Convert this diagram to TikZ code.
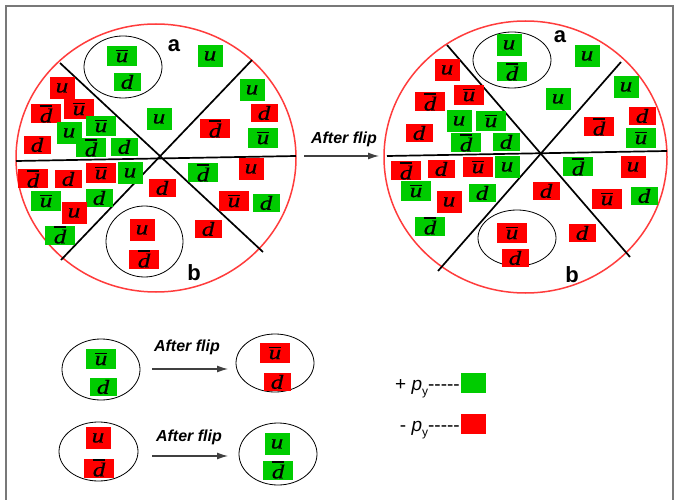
\documentclass[tikz,border=0pt]{standalone}
\usepackage{fontspec}
\setmainfont{Liberation Serif}
\setsansfont{Liberation Sans}
\newfontfamily\quarkfont[FakeStretch=1.25,FakeBold=0.6]{Liberation Serif}
\usetikzlibrary{arrows.meta,shapes.geometric}

\definecolor{qgreen}{RGB}{0,204,0}
\definecolor{qred}{RGB}{255,0,0}
\definecolor{rimred}{RGB}{255,60,60}
\definecolor{framegray}{RGB}{120,120,120}

% quark letters, plain and barred
\newcommand\qbar[1]{\vbox{\hrule height 1.2pt\kern2.0pt\hbox{#1}}}
\newcommand\qU{u}
\newcommand\qD{d}
\newcommand\qUb{\qbar{u}}
\newcommand\qDb{\qbar{d}}

\tikzset{
  q/.style={inner sep=0pt, font=\quarkfont\fontsize{20}{20}\selectfont\itshape},
  pg/.style={q, fill=qgreen},
  nr/.style={q, fill=qred},
  tu/.style={minimum width=25pt, minimum height=22pt},
  tub/.style={minimum width=30pt, minimum height=20pt},
  td/.style={minimum width=27pt, minimum height=18pt},
  tdb/.style={minimum width=30pt, minimum height=19pt},
  rim/.style={draw=rimred, line width=1.5pt, ellipse, inner sep=0pt},
  cut/.style={draw=black, line width=1.7pt},
  pair/.style={draw=black, line width=0.8pt, ellipse, inner sep=0pt},
  tag/.style={font=\sffamily\bfseries\fontsize{22}{22}\selectfont},
  flip/.style={font=\sffamily\bfseries\itshape\fontsize{16}{16}\selectfont},
  flow/.style={draw=black!75, line width=1.2pt, -{Latex[length=11pt,width=7pt]}},
  legend/.style={font=\sffamily\fontsize{19}{19}\selectfont, anchor=base east, inner sep=0pt},
}

\begin{document}
\begin{tikzpicture}[x=1pt,y=-1pt]
\useasboundingbox (0,0) rectangle (675,500);
\fill[white] (0,0) rectangle (675,500);

% outer frame
\draw[framegray, line width=1.5pt] (6,505) -- (6,6) -- (673,6) -- (673,505);

% ---------- left disc ----------
\node[rim, minimum width=280pt, minimum height=268pt] (LC) at (156,158) {};
\coordinate (Lh1) at (16,161);  \coordinate (Lh2) at (296,156);
\coordinate (La1) at (60,63);   \coordinate (La2) at (263,252);
\coordinate (Lb1) at (252,60);  \coordinate (Lb2) at (61,260);
\draw[cut] (Lh1) -- (Lh2);
\draw[cut] (La1) -- (La2);
\draw[cut] (Lb1) -- (Lb2);
\node[pair, minimum width=78pt, minimum height=62pt] (LA) at (123,67) {};
\node[pair, minimum width=77pt, minimum height=71pt] (LB) at (144.5,241.5) {};
\node[tag] (La) at (174,46) {a};
\node[tag] (Lb) at (194,273) {b};

\node[pg,tub] (L1)  at (122,56)  {\qUb};
\node[pg,td]  (L2)  at (127,82)  {\qD};
\node[pg,tu]  (L3)  at (210,56)  {\qU};
\node[nr,tu]  (L4)  at (62,88)   {\qU};
\node[nr,tdb] (L5)  at (46,114)  {\qDb};
\node[nr,tub] (L6)  at (79,109)  {\qUb};
\node[pg,tu]  (L7)  at (252,90)  {\qU};
\node[nr,td]  (L8)  at (264,113) {\qD};
\node[pg,tub] (L9)  at (101,126) {\qUb};
\node[pg,tu]  (L10) at (159,119) {\qU};
\node[nr,tdb] (L11) at (215,129) {\qDb};
\node[pg,tub] (L12) at (263,138) {\qUb};
\node[pg,tu]  (L13) at (69,133)  {\qU};
\node[nr,td]  (L14) at (37,145)  {\qD};
\node[pg,tdb] (L15) at (91,148)  {\qDb};
\node[pg,td]  (L16) at (124,147) {\qD};
\node[nr,tdb] (L17) at (33,179)  {\qDb};
\node[nr,td]  (L18) at (68,179)  {\qD};
\node[nr,tub] (L19) at (101,173) {\qUb};
\node[pg,tu]  (L20) at (130,173) {\qU};
\node[pg,tdb] (L21) at (203,173) {\qDb};
\node[nr,tu]  (L22) at (251,169) {\qU};
\node[nr,td]  (L23) at (162,188) {\qD};
\node[pg,tub] (L24) at (46,201)  {\qUb};
\node[pg,td]  (L25) at (99,198)  {\qD};
\node[nr,tu]  (L26) at (74,213)  {\qU};
\node[nr,tub] (L27) at (234,201) {\qUb};
\node[pg,td]  (L28) at (266,203) {\qD};
\node[nr,td]  (L29) at (208,229) {\qD};
\node[pg,tdb] (L30) at (60,235)  {\qDb};
\node[nr,tu]  (L31) at (142,230) {\qU};
\node[nr,tdb] (L32) at (144,259) {\qDb};

% ---------- arrow between the discs ----------
\coordinate (F1) at (304,156);
\coordinate (F2) at (379,156);
\draw[flow] (F1) -- (F2);
\node[flip] (Ft) at (344,139) {After flip};

% ---------- right disc ----------
\node[rim, minimum width=283pt, minimum height=272pt] (RC) at (525.5,157) {};
\coordinate (Rh1) at (387,156); \coordinate (Rh2) at (667,151);
\coordinate (Ra1) at (447,45);  \coordinate (Ra2) at (630,257);
\coordinate (Rb1) at (621,62);  \coordinate (Rb2) at (438,271);
\draw[cut] (Rh1) -- (Rh2);
\draw[cut] (Ra1) -- (Ra2);
\draw[cut] (Rb1) -- (Rb2);
\node[pair, minimum width=78pt, minimum height=56pt] (RA) at (512,60) {};
\node[pair, minimum width=78pt, minimum height=56pt] (RB) at (517,238) {};
\node[tag] (Ra) at (560,37) {a};
\node[tag] (Rb) at (572,275) {b};

\node[pg,tu]  (R1)  at (509,45)  {\qU};
\node[pg,tdb] (R2)  at (512,72)  {\qDb};
\node[pg,tu]  (R3)  at (587,56)  {\qU};
\node[nr,tu]  (R4)  at (447,70)  {\qU};
\node[pg,tu]  (R5)  at (626,87)  {\qU};
\node[nr,tub] (R6)  at (469,95)  {\qUb};
\node[nr,tdb] (R7)  at (430,102) {\qDb};
\node[pg,tu]  (R8)  at (558,99)  {\qU};
\node[nr,td]  (R9)  at (642,116) {\qD};
\node[pg,tu]  (R10) at (459,121) {\qU};
\node[pg,tub] (R11) at (491,121) {\qUb};
\node[nr,tdb] (R12) at (599,127) {\qDb};
\node[pg,tub] (R13) at (641,138) {\qUb};
\node[nr,td]  (R14) at (419,133) {\qD};
\node[pg,tdb] (R15) at (466,143) {\qDb};
\node[pg,td]  (R16) at (506,142) {\qD};
\node[nr,tdb] (R17) at (406,171) {\qDb};
\node[nr,td]  (R18) at (441,169) {\qD};
\node[nr,tub] (R19) at (478,167) {\qUb};
\node[pg,tu]  (R20) at (507,167) {\qU};
\node[pg,tdb] (R21) at (578,167) {\qDb};
\node[nr,tu]  (R22) at (633,167) {\qU};
\node[nr,td]  (R23) at (546,191) {\qD};
\node[pg,tub] (R24) at (416,191) {\qUb};
\node[nr,tu]  (R25) at (449,202) {\qU};
\node[pg,td]  (R26) at (482,193) {\qD};
\node[nr,tub] (R27) at (607,199) {\qUb};
\node[pg,td]  (R28) at (644,196) {\qD};
\node[nr,td]  (R29) at (582,233) {\qD};
\node[pg,tdb] (R30) at (430,226) {\qDb};
\node[nr,tub] (R31) at (512,233) {\qUb};
\node[nr,td]  (R32) at (515,258) {\qD};

% ---------- single pairs before and after the flip ----------
\node[pair, minimum width=78pt, minimum height=61pt] (E1) at (101,369.5) {};
\node[pg,tub] (B1) at (101,359) {\qUb};
\node[pg,td]  (B2) at (103,387) {\qD};
\node[pair, minimum width=78pt, minimum height=58pt] (E2) at (275,363) {};
\node[nr,tub] (B3) at (275,353) {\qUb};
\node[nr,td]  (B4) at (277,382) {\qD};
\coordinate (G1) at (152,369);
\coordinate (G2) at (228,369);
\draw[flow] (G1) -- (G2);
\node[flip] (Gt) at (187,347) {After flip};

\node[pair, minimum width=79pt, minimum height=59pt] (E3) at (98.5,451.5) {};
\node[nr,tu]  (B5) at (98,438) {\qU};
\node[nr,tdb] (B6) at (99,468) {\qDb};
\node[pair, minimum width=78pt, minimum height=62pt] (E4) at (278,454) {};
\node[pg,tu]  (B7) at (277,444) {\qU};
\node[pg,tdb] (B8) at (278,470) {\qDb};
\coordinate (H1) at (152,456);
\coordinate (H2) at (228,456);
\draw[flow] (H1) -- (H2);
\node[flip] (Ht) at (189,437) {After flip};

% ---------- legend ----------
\node[q, fill=qgreen, minimum width=25pt, minimum height=20pt] (KG) at (473.5,383) {};
\node[q, fill=qred, minimum width=25pt, minimum height=20pt] (KR) at (473.5,424) {};
\node[legend] (KGt) at (460,390) {+ \textit{p}\raisebox{-5pt}{\fontsize{12}{12}\selectfont y}-{}-{}-{}-{}-};
\node[legend] (KRt) at (460,431) {- \textit{p}\raisebox{-5pt}{\fontsize{12}{12}\selectfont y}-{}-{}-{}-{}-};
\end{tikzpicture}
\end{document}
